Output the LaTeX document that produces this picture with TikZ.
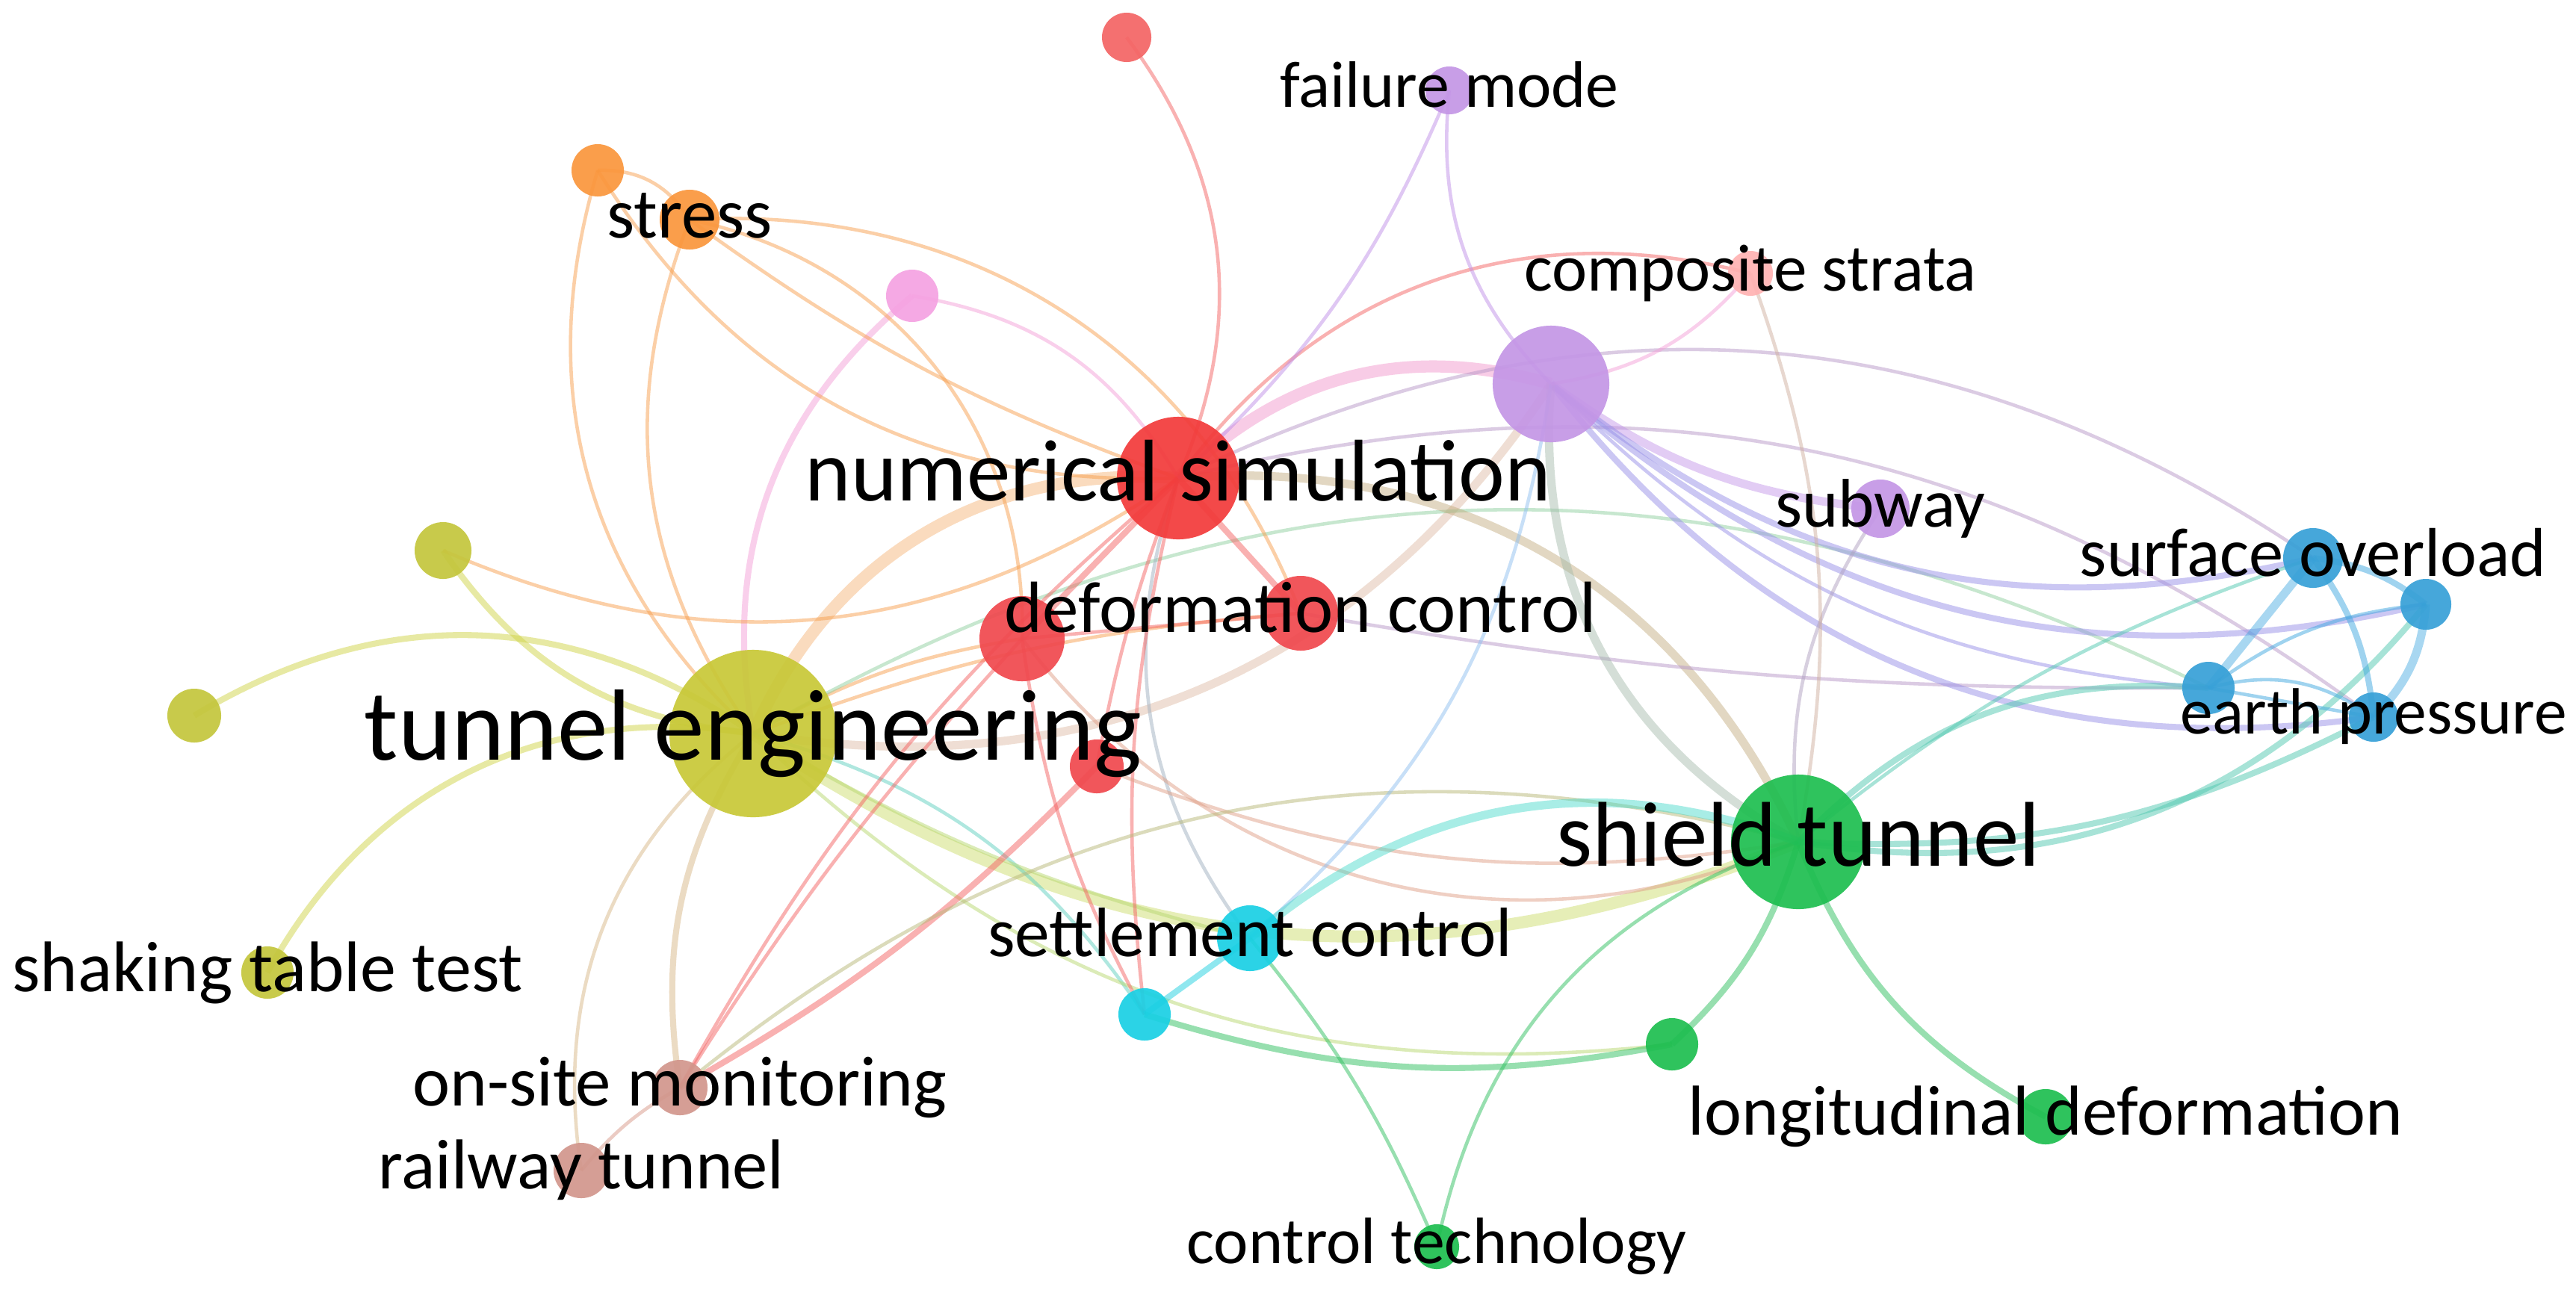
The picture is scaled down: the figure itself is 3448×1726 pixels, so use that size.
\documentclass[tikz,border=0pt]{standalone}
\usepackage{fontspec}
\setmainfont{Carlito}
\pgfdeclarelayer{edgelayer}
\pgfsetlayers{edgelayer,main}
% node colours
\definecolor{cTE}{RGB}{200,200,55}
\definecolor{cYl}{RGB}{196,198,60}
\definecolor{cNS}{RGB}{242,58,58}
\definecolor{cRd}{RGB}{240,72,78}
\definecolor{cRT}{RGB}{244,100,100}
\definecolor{cCS}{RGB}{255,178,178}
\definecolor{cGn}{RGB}{30,190,80}
\definecolor{cBl}{RGB}{55,160,215}
\definecolor{cCy}{RGB}{25,208,228}
\definecolor{cPu}{RGB}{196,150,230}
\definecolor{cOr}{RGB}{250,150,60}
\definecolor{cPk}{RGB}{245,162,226}
\definecolor{cMo}{RGB}{210,150,140}
% edge colours
\definecolor{eY}{HTML}{D0D448}
\definecolor{eO}{HTML}{F8A050}
\definecolor{eR}{HTML}{F46464}
\definecolor{eK}{HTML}{F4A0D8}
\definecolor{eP}{HTML}{C090E8}
\definecolor{eG}{HTML}{30C060}
\definecolor{eB}{HTML}{40A8E0}
\definecolor{eC}{HTML}{20D0E0}
\definecolor{eM}{HTML}{D89888}
\definecolor{eTN}{HTML}{F6B070}
\definecolor{eTS}{HTML}{C8DA60}
\definecolor{eTP}{HTML}{DDB8A0}
\definecolor{eTan}{HTML}{D8B888}
\definecolor{eTeal}{HTML}{60D0C0}
\definecolor{eYG}{HTML}{B8D870}
\definecolor{eTG}{HTML}{90D0A0}
\definecolor{eGray}{HTML}{A0B0C0}
\definecolor{eNP}{HTML}{F090C8}
\definecolor{eNS}{HTML}{C0A878}
\definecolor{eMv}{HTML}{B898C8}
\definecolor{eRB}{HTML}{E0A088}
\definecolor{eOl}{HTML}{B8B878}
\definecolor{ePB}{HTML}{9890E8}
\definecolor{eGrayG}{HTML}{A0B8A8}
\definecolor{eLB}{HTML}{90C0F0}
\definecolor{ePG}{HTML}{B0A0C0}
\definecolor{eCG}{HTML}{D0B0A0}
\definecolor{eCy}{HTML}{40D8C8}
\definecolor{eTB}{HTML}{50C8B0}
\tikzset{
  kw/.style={circle, inner sep=0pt, draw=none, fill opacity=0.92},
  lab/.style={inner sep=0pt, text=black, anchor=center, execute at begin node=\vphantom{lg}},
  eds/.style={line width=1.3pt, draw opacity=0.5},
  edm/.style={line width=2.3pt, draw opacity=0.5},
  edk/.style={line width=3.2pt, draw opacity=0.45},
  edt/.style={line width=4.6pt, draw opacity=0.45},
}
\newcommand{\fs}[1]{\fontsize{#1}{#1}\selectfont}
\begin{document}
\begin{tikzpicture}[x=0.01cm,y=-0.01cm]
\useasboundingbox (0,0) rectangle (3448,1726);
\begin{pgfonlayer}{edgelayer}
\fill[white] (0,0) rectangle (3448,1726);
\end{pgfonlayer}
% ---------- nodes ----------
\node[kw, fill=cTE, minimum size=2.24cm] (te) at (1008,982) {};
\node[kw, fill=cNS, minimum size=1.64cm] (ns) at (1577,640) {};
\node[kw, fill=cGn, minimum size=1.80cm] (st) at (2407,1127) {};
\node[kw, fill=cPu, minimum size=1.56cm] (pu) at (2076,514) {};
\node[kw, fill=cPu, minimum size=0.64cm] (fm) at (1940,121) {};
\node[kw, fill=cCS, minimum size=0.60cm] (cs) at (2343,366) {};
\node[kw, fill=cRT, minimum size=0.66cm] (rt) at (1508,50) {};
\node[kw, fill=cOr, minimum size=0.70cm] (o1) at (800,228) {};
\node[kw, fill=cOr, minimum size=0.80cm] (sr) at (923,294) {};
\node[kw, fill=cPk, minimum size=0.70cm] (pk) at (1221,396) {};
\node[kw, fill=cYl, minimum size=0.76cm] (y1) at (593,737) {};
\node[kw, fill=cYl, minimum size=0.72cm] (y2) at (260,958) {};
\node[kw, fill=cYl, minimum size=0.70cm] (stt) at (358,1302) {};
\node[kw, fill=cRd, minimum size=1.00cm] (dc) at (1741,821) {};
\node[kw, fill=cRd, minimum size=1.14cm] (r2) at (1368,855) {};
\node[kw, fill=cRd, minimum size=0.72cm] (r3) at (1468,1026) {};
\node[kw, fill=cPu, minimum size=0.78cm] (sub) at (2517,681) {};
\node[kw, fill=cBl, minimum size=0.80cm] (so) at (3096,747) {};
\node[kw, fill=cBl, minimum size=0.68cm] (b2) at (3247,809) {};
\node[kw, fill=cBl, minimum size=0.70cm] (b3) at (2956,921) {};
\node[kw, fill=cBl, minimum size=0.66cm] (ep) at (3177,960) {};
\node[kw, fill=cCy, minimum size=0.88cm] (sc) at (1673,1256) {};
\node[kw, fill=cCy, minimum size=0.70cm] (c2) at (1532,1358) {};
\node[kw, fill=cGn, minimum size=0.70cm] (g2) at (2238,1398) {};
\node[kw, fill=cGn, minimum size=0.74cm] (ld) at (2738,1495) {};
\node[kw, fill=cGn, minimum size=0.60cm] (ct) at (1923,1669) {};
\node[kw, fill=cMo, minimum size=0.74cm] (osm) at (910,1456) {};
\node[kw, fill=cMo, minimum size=0.74cm] (rw) at (778,1567) {};
% ---------- edges ----------
\begin{pgfonlayer}{edgelayer}
% yellow cluster
\draw[edm,draw=eY] (y1.center) to[bend right=25] (te.center);
\draw[edm,draw=eY] (y2.center) to[bend left=33] (te.center);
\draw[edm,draw=eY] (stt.center) to[bend left=35] (te.center);
\draw[edt,draw=eTN] (te.center) to[bend left=35] (ns.center);
\draw[edt,draw=eTS] (te.center) to[bend right=28] (st.center);
\draw[edk,draw=eTP] (te.center) to[bend right=33] (pu.center);
\draw[edm,draw=eTan] (te.center) to[bend right=20] (osm.center);
\draw[eds,draw=eTan] (te.center) to[bend right=30] (rw.center);
\draw[eds,draw=eO] (o1.center) to[bend right=32] (te.center);
\draw[eds,draw=eO] (sr.center) to[bend right=28] (te.center);
\draw[edm,draw=eK] (pk.center) to[bend right=30] (te.center);
\draw[eds,draw=eO] (y1.center) to[bend right=29] (ns.center);
\draw[eds,draw=eO] (te.center) to[bend left=10] (r2.center);
\draw[eds,draw=eO] (te.center) to[bend left=8] (dc.center);
\draw[eds,draw=eTeal] (te.center) to[bend left=20] (c2.center);
\draw[eds,draw=eYG] (te.center) to[bend right=8] (sc.center);
\draw[eds,draw=eYG] (te.center) to[bend right=25] (g2.center);
\draw[eds,draw=eTG] (te.center) to[bend left=28] (b3.center);
% orange
\draw[eds,draw=eO] (o1.center) to[bend left=30] (sr.center);
\draw[eds,draw=eO] (o1.center) to[bend right=30] (ns.center);
\draw[eds,draw=eO] (sr.center) to[bend right=8] (ns.center);
\draw[eds,draw=eO] (sr.center) to[bend left=40] (r2.center);
\draw[eds,draw=eO] (sr.center) to[bend left=36] (dc.center);
% pink
\draw[eds,draw=eK] (pk.center) to[bend left=25] (ns.center);
% red
\draw[eds,draw=eR] (rt.center) to[bend left=30] (ns.center);
\draw[edm,draw=eR] (ns.center) -- (dc.center);
\draw[edm,draw=eR] (ns.center) -- (r2.center);
\draw[eds,draw=eR] (ns.center) to[bend right=5] (r3.center);
\draw[eds,draw=eGray] (ns.center) to[bend right=28] (sc.center);
\draw[eds,draw=eR] (ns.center) to[bend right=10] (c2.center);
\draw[eds,draw=eR] (ns.center) to[bend right=10] (osm.center);
\draw[eds,draw=eR] (r2.center) to[bend right=5] (osm.center);
\draw[edm,draw=eR] (r3.center) to[bend left=8] (osm.center);
\draw[eds,draw=eR] (ns.center) to[bend left=34] (cs.center);
\draw[edt,draw=eNP] (ns.center) to[bend left=30] (pu.center);
\draw[edk,draw=eNS] (ns.center) to[bend left=35] (st.center);
\draw[eds,draw=eMv] (ns.center) to[bend left=30] (so.center);
\draw[eds,draw=eMv] (ns.center) to[bend left=25] (ep.center);
\draw[eds,draw=eMv] (dc.center) to[bend right=5] (b3.center);
\draw[eds,draw=eR] (r2.center) -- (dc.center);
\draw[eds,draw=eRB] (r3.center) to[bend right=15] (st.center);
\draw[eds,draw=eRB] (r2.center) to[bend right=38] (st.center);
\draw[eds,draw=eOl] (osm.center) to[bend left=27] (st.center);
\draw[eds,draw=eM] (osm.center) to[bend right=10] (rw.center);
\draw[eds,draw=eR] (r2.center) to[bend right=10] (c2.center);
% purple
\draw[eds,draw=eP] (fm.center) to[bend right=25] (pu.center);
\draw[eds,draw=eP] (fm.center) to[bend left=12] (ns.center);
\draw[edk,draw=eP] (pu.center) to[bend right=15] (sub.center);
\draw[edm,draw=ePB] (pu.center) to[bend right=26] (so.center);
\draw[edm,draw=ePB] (pu.center) to[bend right=27] (b2.center);
\draw[edm,draw=ePB] (pu.center) to[bend right=30] (ep.center);
\draw[eds,draw=ePB] (pu.center) to[bend right=20] (b3.center);
\draw[edk,draw=eGrayG] (pu.center) to[bend right=33] (st.center);
\draw[eds,draw=eLB] (pu.center) to[bend left=20] (sc.center);
\draw[eds,draw=eK] (pu.center) to[bend right=20] (cs.center);
\draw[eds,draw=ePG] (sub.center) to[bend right=20] (st.center);
\draw[eds,draw=eCG] (cs.center) to[bend left=15] (st.center);
% green
\draw[edm,draw=eG] (st.center) to[bend right=20] (ld.center);
\draw[edm,draw=eG] (st.center) to[bend left=15] (g2.center);
\draw[eds,draw=eG] (st.center) to[bend right=30] (ct.center);
\draw[edk,draw=eCy] (sc.center) to[bend left=30] (st.center);
\draw[edm,draw=eTB] (st.center) to[bend left=25] (b3.center);
\draw[edm,draw=eTB] (st.center) to[bend right=15] (ep.center);
\draw[edm,draw=eTB] (st.center) to[bend right=30] (b2.center);
\draw[eds,draw=eTB] (st.center) to[bend left=10] (so.center);
\draw[edm,draw=eG] (c2.center) to[bend right=14] (g2.center);
\draw[eds,draw=eG] (sc.center) to[bend left=8] (ct.center);
\draw[edm,draw=eC] (sc.center) -- (c2.center);
% blue
\draw[edk,draw=eB] (so.center) -- (b3.center);
\draw[edm,draw=eB] (so.center) to[bend left=15] (b2.center);
\draw[edm,draw=eB] (so.center) to[bend left=15] (ep.center);
\draw[edk,draw=eB] (b2.center) to[bend left=20] (ep.center);
\draw[eds,draw=eB] (b2.center) to[bend right=15] (b3.center);
\draw[eds,draw=eB] (b3.center) to[bend left=25] (ep.center);
\draw[eds,draw=eB] (b3.center) -- (ep.center);
\end{pgfonlayer}
% ---------- labels ----------
\node[lab, font=\fs{38.5}] (lte) at (te) {tunnel engineering};
\node[lab, font=\fs{33.3}] (lns) at (ns) {numerical simulation};
\node[lab, font=\fs{35}] (lst) at (st) {shield tunnel};
\node[lab, font=\fs{27.6}] (ldc) at (dc) {deformation control};
\node[lab, font=\fs{26.6}] (lsc) at (sc) {settlement control};
\node[lab, font=\fs{25}] (lfm) at (fm) {failure mode};
\node[lab, font=\fs{25.4}] (lcs) at (cs) {composite strata};
\node[lab, font=\fs{27}] (lsr) at (sr) {stress};
\node[lab, font=\fs{27.3}] (lstt) at (stt) {shaking table test};
\node[lab, font=\fs{26.2}] (lsub) at (sub) {subway};
\node[lab, font=\fs{26.3}] (lso) at (so) {surface overload};
\node[lab, font=\fs{24.9}] (lep) at (ep) {earth pressure};
\node[lab, font=\fs{26.9}] (lld) at (ld) {longitudinal deformation};
\node[lab, font=\fs{25}] (lct) at (ct) {control technology};
\node[lab, font=\fs{27}] (losm) at (osm) {on-site monitoring};
\node[lab, font=\fs{26.9}] (lrw) at (rw) {railway tunnel};
\end{tikzpicture}
\end{document}
